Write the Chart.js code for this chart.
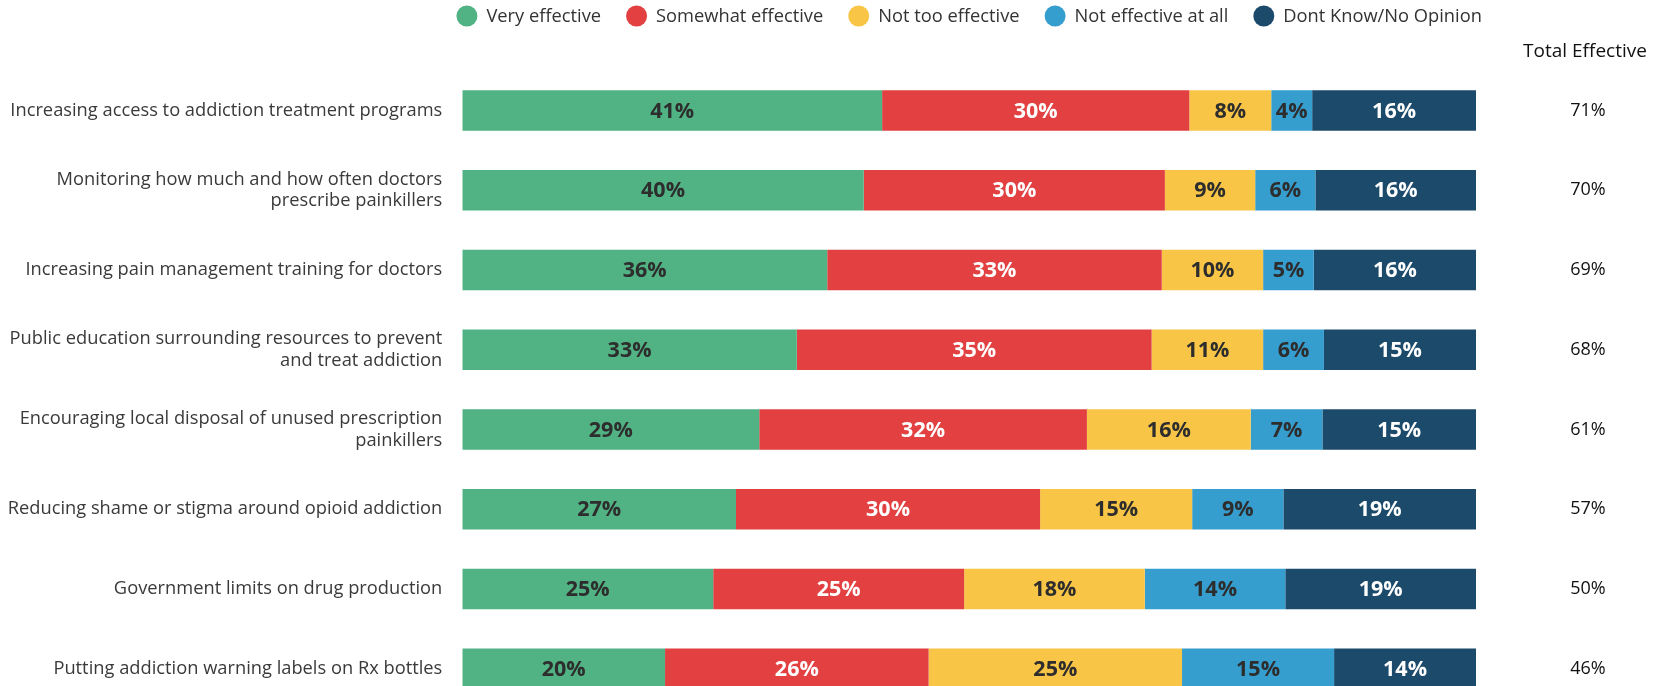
<!DOCTYPE html>
<html>
<head>
<meta charset="utf-8">
<script src="https://cdn.jsdelivr.net/npm/chart.js@4.4.1/dist/chart.umd.min.js"></script>
<style>
  html, body { margin: 0; padding: 0; background: #fff; overflow: hidden; }
  canvas { display: block; }
</style>
</head>
<body>
<canvas id="effChart" width="1666" height="710"></canvas>
<script>
// Survey data
const categories = [
  'Increasing access to addiction treatment programs',
  ['Monitoring how much and how often doctors', 'prescribe painkillers'],
  'Increasing pain management training for doctors',
  ['Public education surrounding resources to prevent', 'and treat addiction'],
  ['Encouraging local disposal of unused prescription', 'painkillers'],
  'Reducing shame or stigma around opioid addiction',
  'Government limits on drug production',
  'Putting addiction warning labels on Rx bottles'
];
const seriesNames = ['Very effective', 'Somewhat effective', 'Not too effective', 'Not effective at all', 'Dont Know/No Opinion'];
const veryEffective = [41, 40, 36, 33, 29, 27, 25, 20];
const somewhatEffective = [30, 30, 33, 35, 32, 30, 25, 26];
const notTooEffective = [8, 9, 10, 11, 16, 15, 18, 25];
const notEffectiveAtAll = [4, 6, 5, 6, 7, 9, 14, 15];
const dontKnow = [16, 16, 16, 15, 15, 19, 19, 14];
const totalEffective = ['71%', '70%', '69%', '68%', '61%', '57%', '50%', '46%'];
const totalHeader = 'Total Effective';

const colors = ['#51b283', '#e24041', '#f9c546', '#369dcf', '#1c4a6a'];
const labelColors = ['#2d2d2d', '#ffffff', '#2d2d2d', '#2d2d2d', '#ffffff'];

// rounded shares don't always add to 100, so each row is stretched to the full bar
const allSeries = [veryEffective, somewhatEffective, notTooEffective, notEffectiveAtAll, dontKnow];
const rowSums = categories.map((c, j) => allSeries.reduce((s, arr) => s + arr[j], 0));

const datasets = allSeries.map((arr, i) => ({
  label: seriesNames[i],
  data: arr.map((v, j) => v * 100 / rowSums[j]),
  shown: arr,
  backgroundColor: colors[i],
  borderWidth: 0,
  categoryPercentage: 1,
  barPercentage: 0.507
}));

const barLabels = {
  id: 'barLabels',
  afterDatasetsDraw(chart) {
    const ctx = chart.ctx;
    ctx.save();
    ctx.font = 'bold 21.5px "Open Sans"';
    ctx.textAlign = 'center';
    ctx.textBaseline = 'middle';
    chart.data.datasets.forEach((ds, i) => {
      ctx.fillStyle = labelColors[i];
      chart.getDatasetMeta(i).data.forEach((bar, j) => {
        const p = bar.getCenterPoint();
        ctx.fillText(ds.shown[j] + '%', p.x, p.y + 1);
      });
    });
    ctx.restore();
  }
};

const totals = {
  id: 'totals',
  afterDraw(chart) {
    const ctx = chart.ctx;
    ctx.save();
    ctx.fillStyle = '#111';
    ctx.textAlign = 'center';
    ctx.textBaseline = 'middle';
    ctx.font = '19px "Open Sans"';
    ctx.fillText(totalHeader, 1585, 52);
    ctx.font = '18px "Open Sans"';
    chart.getDatasetMeta(0).data.forEach((bar, j) => {
      ctx.fillText(totalEffective[j], 1588, bar.y);
    });
    ctx.restore();
  }
};

const topLegend = {
  id: 'topLegend',
  afterDraw(chart) {
    const ctx = chart.ctx;
    const r = 10.5, gapText = 9, gapItem = 25, y = 16;
    ctx.save();
    ctx.font = '18.3px "Open Sans"';
    ctx.textBaseline = 'middle';
    const widths = chart.data.datasets.map(ds => 2 * r + gapText + ctx.measureText(ds.label).width);
    const total = widths.reduce((a, b) => a + b, 0) + gapItem * (widths.length - 1);
    const area = chart.chartArea;
    let x = (area.left + area.right) / 2 - total / 2;
    chart.data.datasets.forEach((ds, i) => {
      ctx.fillStyle = ds.backgroundColor;
      ctx.beginPath();
      ctx.arc(x + r, y, r, 0, Math.PI * 2);
      ctx.fill();
      ctx.fillStyle = '#333';
      ctx.textAlign = 'left';
      ctx.fillText(ds.label, x + 2 * r + gapText, y + 1);
      x += widths[i] + gapItem;
    });
    ctx.restore();
  }
};

new Chart(document.getElementById('effChart'), {
  type: 'bar',
  data: { labels: categories, datasets: datasets },
  options: {
    indexAxis: 'y',
    responsive: false,
    animation: false,
    layout: { padding: { top: 70.6, bottom: 1.4, left: 0, right: 190 } },
    scales: {
      x: { stacked: true, min: 0, max: 100, display: false },
      y: {
        stacked: true,
        grid: { display: false, drawTicks: false },
        border: { display: false },
        ticks: {
          color: '#3a3a3a',
          padding: 20,
          font: { family: 'Open Sans', size: 18.3, lineHeight: 1.19 }
        },
        afterFit(scale) {
          scale.width = 462.3;
          // keep the tick padding from eating into the plot height
          scale.paddingTop = 0;
          scale.paddingBottom = 0;
        }
      }
    },
    plugins: {
      legend: { display: false },
      tooltip: { enabled: false }
    }
  },
  plugins: [barLabels, totals, topLegend]
});
</script>
</body>
</html>
